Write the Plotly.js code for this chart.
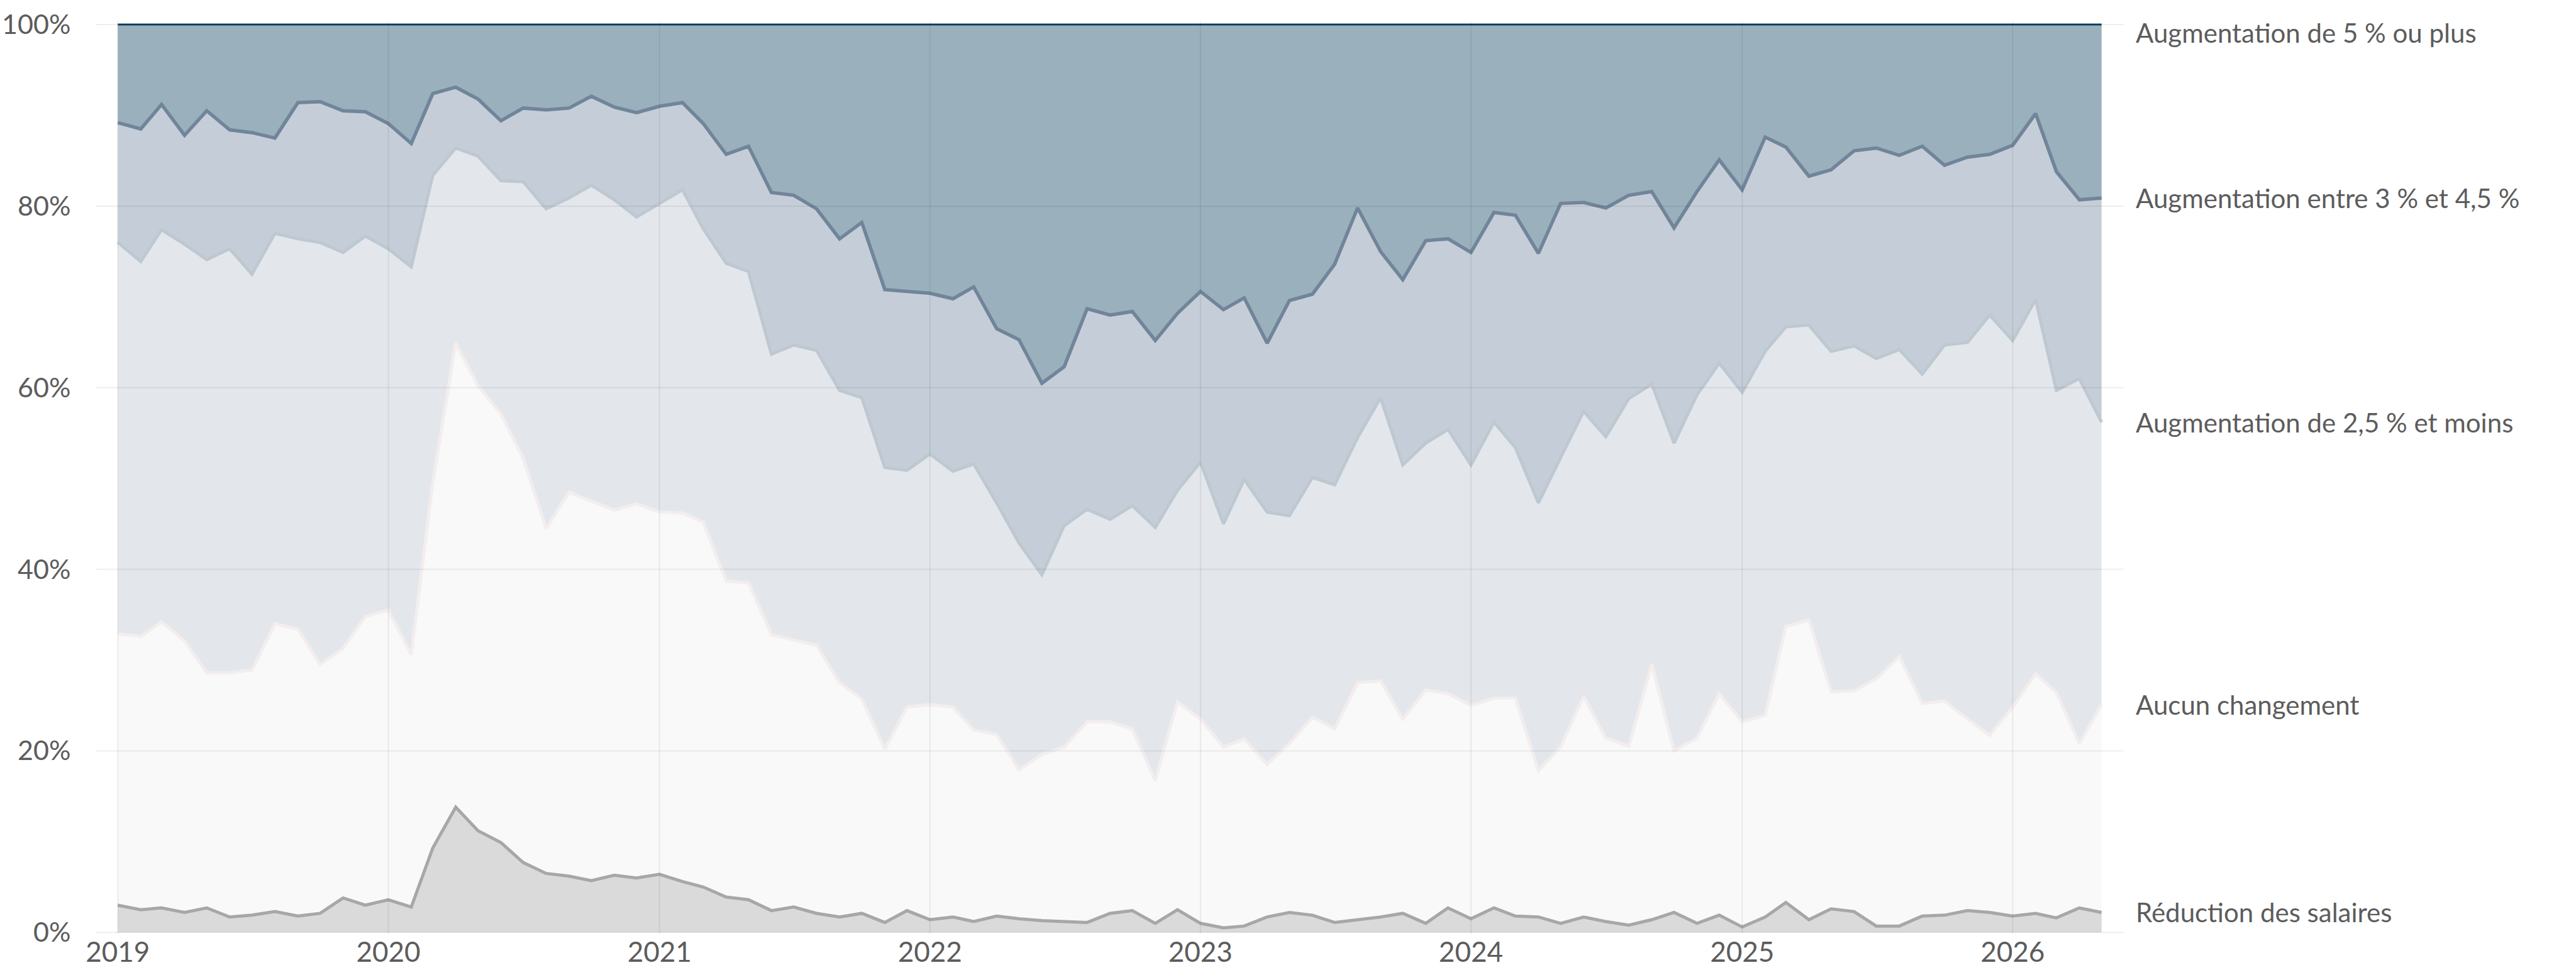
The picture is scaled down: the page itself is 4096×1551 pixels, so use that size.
<!DOCTYPE html>
<html>
<head>
<meta charset="utf-8">
<script src="https://cdn.plot.ly/plotly-3.0.1.min.js"></script>
<style>
  html, body { margin: 0; padding: 0; background: #ffffff; overflow: hidden; }
  #chart { width: 4096px; height: 1551px; }
</style>
</head>
<body>
<div id="chart"></div>
<script>
// ---- Data (shares in %, monthly) ----
const months = [
  '2019-01','2019-02','2019-03','2019-04','2019-05','2019-06','2019-07','2019-08','2019-09','2019-10','2019-11','2019-12',
  '2020-01','2020-02','2020-03','2020-04','2020-05','2020-06','2020-07','2020-08','2020-09','2020-10','2020-11','2020-12',
  '2021-01','2021-02','2021-03','2021-04','2021-05','2021-06','2021-07','2021-08','2021-09','2021-10','2021-11','2021-12',
  '2022-01','2022-02','2022-03','2022-04','2022-05','2022-06','2022-07','2022-08','2022-09','2022-10','2022-11','2022-12',
  '2023-01','2023-02','2023-03','2023-04','2023-05','2023-06','2023-07','2023-08','2023-09','2023-10','2023-11','2023-12',
  '2024-01','2024-02','2024-03','2024-04','2024-05','2024-06','2024-07','2024-08','2024-09','2024-10','2024-11','2024-12',
  '2025-01','2025-02','2025-03','2025-04','2025-05','2025-06','2025-07','2025-08','2025-09','2025-10','2025-11','2025-12',
  '2026-01','2026-02','2026-03','2026-04','2026-05'
];

const reductionSalaires = [
  3.0,2.5,2.7,2.2,2.7,1.7,1.9,2.3,1.8,2.1,3.8,3.0,
  3.6,2.8,9.3,13.8,11.2,9.9,7.7,6.5,6.2,5.7,6.3,6.0,
  6.4,5.6,5.0,3.9,3.6,2.4,2.8,2.1,1.7,2.1,1.1,2.4,
  1.4,1.7,1.2,1.8,1.5,1.3,1.2,1.1,2.1,2.4,1.0,2.5,
  1.0,0.5,0.7,1.7,2.2,1.9,1.1,1.4,1.7,2.1,1.0,2.7,
  1.5,2.7,1.8,1.7,1.0,1.7,1.2,0.8,1.4,2.2,1.0,1.9,
  0.6,1.7,3.3,1.4,2.6,2.3,0.7,0.7,1.8,1.9,2.4,2.2,
  1.8,2.1,1.6,2.7,2.2
];

const aucunChangement = [
  29.9,30.1,31.5,29.9,25.9,26.9,27.0,31.7,31.6,27.4,27.5,31.8,
  31.9,27.8,40.2,51.1,49.0,47.2,44.5,38.0,42.3,41.8,40.2,41.2,
  39.9,40.6,40.2,34.8,34.9,30.4,29.4,29.5,25.8,23.6,19.1,22.4,
  23.7,23.1,21.1,20.0,16.4,18.3,19.2,22.1,21.1,20.0,15.7,22.9,
  22.5,19.9,20.6,16.8,18.6,21.8,21.3,26.1,26.0,21.4,25.7,23.6,
  23.5,23.1,24.0,16.1,19.4,24.3,20.2,19.7,28.1,17.8,20.4,24.4,
  22.6,22.2,30.4,33.0,23.9,24.3,27.2,29.7,23.4,23.6,21.1,19.5,
  23.0,26.4,24.8,18.1,22.9
];

const augmentation25Moins = [
  43.1,41.3,43.2,43.7,45.5,46.7,43.6,43.0,43.0,46.5,43.6,41.9,
  39.8,42.7,33.9,21.5,25.3,25.7,30.5,35.2,32.4,34.8,34.2,31.6,
  34.0,35.6,32.3,35.0,34.3,30.9,32.5,32.5,32.2,33.2,31.0,26.1,
  27.6,26.0,29.3,25.5,25.0,19.8,24.4,23.4,22.3,24.6,27.9,23.3,
  28.3,24.6,28.6,27.8,25.1,26.4,26.9,27.0,31.2,28.0,27.2,29.1,
  26.5,30.4,27.6,29.5,31.9,31.4,33.2,38.3,30.9,33.9,37.8,36.4,
  36.3,40.1,33.0,32.5,37.5,38.0,35.3,33.8,36.3,39.2,41.5,46.3,
  40.4,41.2,33.3,40.2,31.1
];

const augmentation3a45 = [
  13.2,14.6,13.8,12.0,16.4,13.1,15.6,10.5,15.0,15.5,15.6,13.7,
  13.8,13.6,9.0,6.7,6.3,6.6,8.1,10.9,9.9,9.8,10.2,11.5,
  10.7,9.6,11.6,12.0,13.8,17.8,16.5,15.6,16.7,19.3,19.6,19.7,
  17.7,19.0,19.5,19.2,22.4,21.1,17.5,22.1,22.5,21.4,20.6,19.5,
  18.8,23.6,20.0,18.6,23.7,20.2,24.3,25.3,16.1,20.4,22.3,21.0,
  23.4,23.1,25.6,27.5,28.0,23.0,25.2,22.4,21.2,23.7,22.4,22.4,
  22.3,23.6,19.8,16.4,20.0,21.5,23.2,21.4,25.1,19.8,20.4,17.7,
  21.5,20.5,24.1,19.7,24.7
];

const augmentation5Plus = [
  10.8,11.5,8.8,12.2,9.5,11.6,11.9,12.5,8.6,8.5,9.5,9.6,
  10.9,13.1,7.6,6.9,8.2,10.6,9.2,9.4,9.2,7.9,9.1,9.7,
  9.0,8.6,10.9,14.3,13.4,18.5,18.8,20.3,23.6,21.8,29.2,29.4,
  29.6,30.2,28.9,33.5,34.7,39.5,37.7,31.3,32.0,31.6,34.8,31.8,
  29.4,31.4,30.1,35.1,30.4,29.7,26.4,20.2,25.0,28.1,23.8,23.6,
  25.1,20.7,21.0,25.2,19.7,19.6,20.2,18.8,18.4,22.4,18.4,14.9,
  18.2,12.4,13.5,16.7,16.0,13.9,13.6,14.4,13.4,15.5,14.6,14.3,
  13.3,9.8,16.2,19.3,19.1
];

const seriesNames = [
  'Réduction des salaires',
  'Aucun changement',
  'Augmentation de 2,5 % et moins',
  'Augmentation entre 3 % et 4,5 %',
  'Augmentation de 5 % ou plus'
];
const yTickValues = [0, 20, 40, 60, 80, 100];
const yTickLabels = ['0%', '20%', '40%', '60%', '80%', '100%'];
const xYearTicks = ['2019-01-01','2020-01-01','2021-01-01','2022-01-01','2023-01-01','2024-01-01','2025-01-01','2026-01-01'];
const xYearLabels = ['2019','2020','2021','2022','2023','2024','2025','2026'];

// ---- Styles ----
const seriesData = [reductionSalaires, aucunChangement, augmentation25Moins, augmentation3a45, augmentation5Plus];
const lineColors = ['#a7a7a7', '#f3eeed', '#bec8d1', '#71859a', '#0e3f5f'];
const fillColors = ['#dadada', '#f9f9f9', '#e3e7ec', '#c5ced8', '#9bb0bd'];
const lineWidths = [5, 5, 5, 5.5, 3];
const FONT = 'Lato, "Open Sans", sans-serif';
const TEXT = '#5c5c5c';

const traces = seriesData.map((vals, k) => ({
  type: 'scatter',
  mode: 'lines',
  x: months,
  y: vals,
  name: seriesNames[k],
  stackgroup: 'one',
  line: { color: lineColors[k], width: lineWidths[k], shape: 'linear' },
  fillcolor: fillColors[k],
  hoverinfo: 'x+y+name'
}));

// end labels placed at the cumulative end level of each series
const lastIdx = months.length - 1;
let cum = 0;
const annotations = seriesData.map((vals, k) => {
  cum += vals[lastIdx];
  return {
    x: months[lastIdx], xref: 'x', y: cum, yref: 'y',
    text: seriesNames[k], showarrow: false,
    xanchor: 'left', yanchor: 'middle', xshift: 52,
    yshift: k === seriesData.length - 1 ? -13 : 0,
    font: { family: FONT, size: 42, color: TEXT }
  };
});

// grid lines drawn above the filled areas (semi-transparent)
const gridColor = 'rgba(0,0,0,0.065)';
const shapes = [];
yTickValues.forEach(v => shapes.push({
  type: 'line', layer: 'above', xref: 'paper', x0: 0, x1: 1, yref: 'y', y0: v, y1: v,
  line: { color: gridColor, width: 2 }
}));
xYearTicks.forEach(d => shapes.push({
  type: 'line', layer: 'above', xref: 'x', x0: d, x1: d, yref: 'paper', y0: 0, y1: 1,
  line: { color: gridColor, width: 2 }
}));

const layout = {
  width: 4096, height: 1551,
  margin: { l: 152, r: 719, t: 34, b: 66, pad: 0 },
  paper_bgcolor: '#ffffff',
  plot_bgcolor: '#ffffff',
  showlegend: false,
  font: { family: FONT, size: 42, color: TEXT },
  xaxis: {
    type: 'date',
    range: ['2018-12-02', '2026-05-31'],
    tickvals: xYearTicks,
    ticktext: xYearLabels,
    showgrid: false, zeroline: false, showline: false,
    ticks: '',
    tickfont: { family: FONT, size: 44, color: TEXT },
    automargin: false
  },
  yaxis: {
    range: [-0.12, 100.35],
    tickvals: yTickValues,
    ticktext: yTickLabels,
    showgrid: false, zeroline: false, showline: false,
    ticks: 'outside', ticklen: 30, tickcolor: 'rgba(0,0,0,0)',
    tickfont: { family: FONT, size: 43, color: TEXT },
    automargin: false
  },
  shapes: shapes,
  annotations: annotations
};

Plotly.newPlot('chart', traces, layout, { displayModeBar: false, staticPlot: true });
</script>
</body>
</html>
